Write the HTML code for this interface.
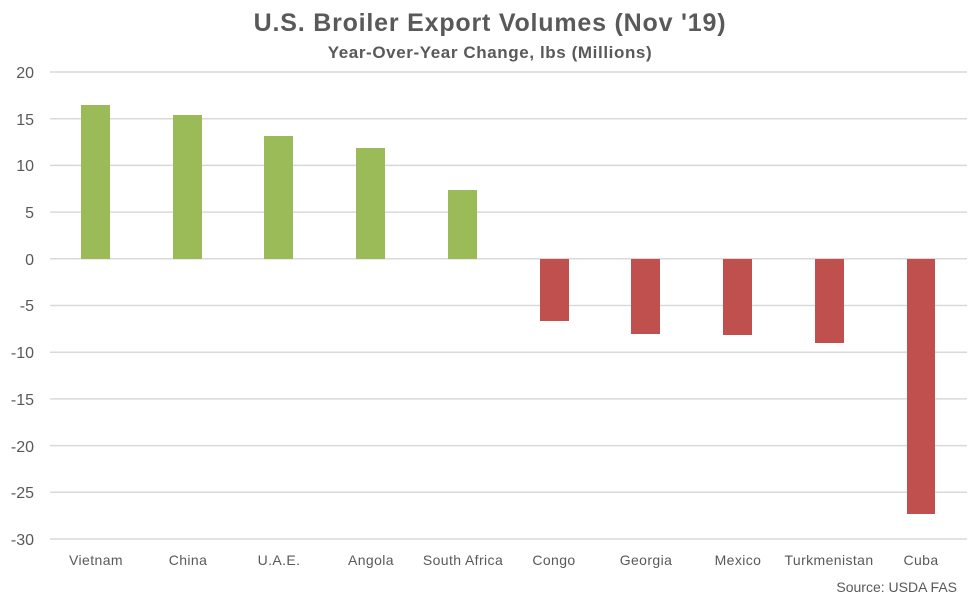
<!DOCTYPE html><html><head><style>body{margin:0;background:#fff}</style></head><body>
<svg width="975" height="601" xmlns="http://www.w3.org/2000/svg" font-family="Liberation Sans, sans-serif">
<rect width="975" height="601" fill="#fff"/>
<text x="490" y="31" text-anchor="middle" font-size="25" font-weight="bold" letter-spacing="0.8" fill="#595959">U.S. Broiler Export Volumes (Nov '19)</text>
<text x="490" y="58" text-anchor="middle" font-size="17" font-weight="bold" letter-spacing="0.6" fill="#595959">Year-Over-Year Change, lbs (Millions)</text>
<g stroke="#d9d9d9" stroke-width="1.5">
<line x1="50" x2="967" y1="72" y2="72"/><line x1="50" x2="967" y1="118.7" y2="118.7"/><line x1="50" x2="967" y1="165.4" y2="165.4"/><line x1="50" x2="967" y1="212.1" y2="212.1"/><line x1="50" x2="967" y1="258.8" y2="258.8"/><line x1="50" x2="967" y1="305.5" y2="305.5"/><line x1="50" x2="967" y1="352.2" y2="352.2"/><line x1="50" x2="967" y1="398.9" y2="398.9"/><line x1="50" x2="967" y1="445.6" y2="445.6"/><line x1="50" x2="967" y1="492.3" y2="492.3"/><line x1="50" x2="967" y1="539" y2="539"/>
</g>
<g font-size="16" fill="#595959" text-anchor="end">
<text x="34" y="78">20</text><text x="34" y="125">15</text><text x="34" y="171">10</text><text x="34" y="218">5</text><text x="34" y="265">0</text><text x="34" y="311">-5</text><text x="34" y="358">-10</text><text x="34" y="405">-15</text><text x="34" y="452">-20</text><text x="34" y="498">-25</text><text x="34" y="545">-30</text>
</g>
<g fill="#9bbb59">
<rect x="81" y="105" width="29" height="154"/><rect x="173" y="115" width="29" height="144"/><rect x="264" y="136" width="29" height="123"/><rect x="356" y="148" width="29" height="111"/><rect x="448" y="190" width="29" height="69"/>
</g>
<g fill="#c0504d">
<rect x="540" y="259" width="29" height="62"/><rect x="631" y="259" width="29" height="75"/><rect x="723" y="259" width="29" height="76"/><rect x="815" y="259" width="29" height="84"/><rect x="907" y="259" width="28" height="255"/>
</g>
<g font-size="14" letter-spacing="0.4" fill="#595959" text-anchor="middle">
<text x="96" y="565">Vietnam</text><text x="188" y="565">China</text><text x="279" y="565">U.A.E.</text><text x="371" y="565">Angola</text><text x="463" y="565">South Africa</text><text x="554" y="565">Congo</text><text x="646" y="565">Georgia</text><text x="738" y="565">Mexico</text><text x="829" y="565">Turkmenistan</text><text x="921" y="565">Cuba</text>
</g>
<text x="957" y="592" text-anchor="end" font-size="14" fill="#595959">Source: USDA FAS</text>
</svg></body></html>
